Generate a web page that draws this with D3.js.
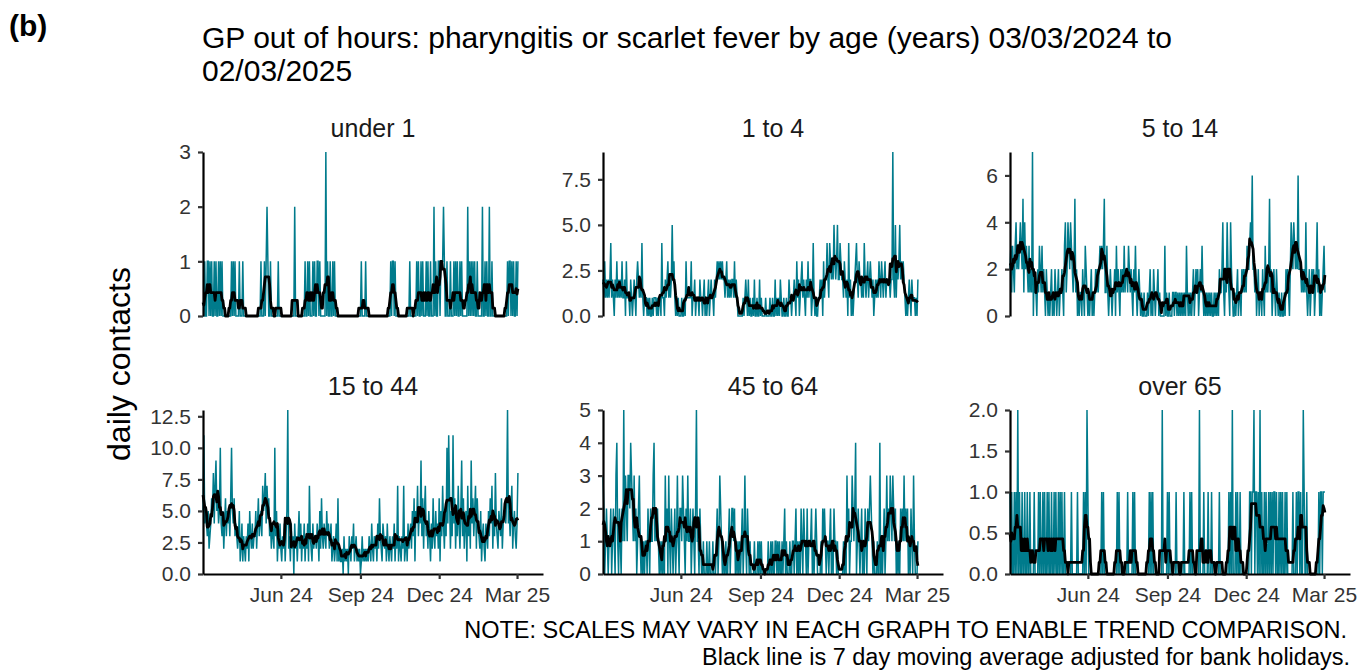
<!DOCTYPE html>
<html><head><meta charset="utf-8">
<script src="https://cdn.jsdelivr.net/npm/d3@7"></script>
<style>
body{margin:0;background:#fff;}
svg text{font-family:Arial,"Liberation Sans",sans-serif;}
</style>
</head><body>
<svg id="chart" width="1357" height="671"></svg>
<script>
const startDate = "2024-03-03";
const endDate = "2025-03-31";

const under1 = [
0,0,1,0,0,1,1,0,1,0, 1,0,0,1,0,1,0,0,1,0, 1,0,1,0,0,0,0,0,0,0, 0,0,0,1,0,1,0,1,0,0,
0,0,1,0,0,0,1,0,0,0, 0,0,0,0,0,0,0,0,0,0, 0,0,0,0,0,0,0,1,0,0, 0,1,0,1,2,1,0,0,1,0,
0,0,0,0,0,0,0,1,0,0, 0,0,0,0,0,0,0,0,0,0, 0,0,0,0,0,0,2,0,0,0, 0,0,0,0,0,0,0,0,1,0,
0,1,0,1,0,0,0,1,0,1, 0,0,1,1,0,1,0,0,0,0, 0,0,3,0,1,0,0,1,0,0, 1,0,1,0,0,0,0,0,0,0,
0,0,0,0,0,0,0,0,0,0, 0,0,0,0,0,0,0,0,0,0, 0,0,0,1,0,0,0,0,1,0, 0,0,0,0,0,0,0,0,0,0,
0,0,0,0,0,0,0,0,0,0, 0,0,0,0,0,0,0,1,0,1, 1,0,1,0,0,0,0,0,0,0, 0,0,0,0,0,0,0,0,0,1,
0,0,0,0,0,0,0,1,0,1, 0,0,1,0,1,0,0,0,1,0, 1,0,0,1,0,0,0,2,0,1, 0,0,1,1,0,1,1,1,2,1,
0,0,1,0,0,0,1,0,0,0, 1,0,1,0,1,0,0,1,0,1, 0,0,0,0,0,0,2,0,1,0, 1,0,1,0,1,0,0,1,0,0,
0,0,0,2,0,0,1,0,1,0, 0,2,0,0,1,0,0,0,0,0, 0,0,0,0,0,0,0,0,0,0, 0,0,1,0,1,1,0,1,0,1,
0,0,1,0,1];

const age1to4 = [
2,1,3,1,2,1,2,1,2,4, 1,2,1,0,2,1,3,1,2,1, 2,1,3,1,1,2,0,3,1,1, 1,0,2,1,0,1,2,1,0,2,
3,2,1,2,1,4,1,0,1,1, 1,0,1,0,1,0,0,1,0,1, 1,1,0,1,0,1,1,0,4,1, 1,0,2,1,2,3,1,2,1,2,
5,2,3,1,0,1,0,1,0,0, 0,1,0,0,1,0,3,1,1,1, 1,1,3,0,1,1,2,0,1,1, 1,0,2,1,1,0,1,2,0,1,
0,1,2,0,1,2,1,1,0,2, 1,2,3,2,3,2,3,2,3,2, 2,1,2,3,1,2,1,2,1,2, 2,1,3,1,2,1,0,0,0,0,
0,0,1,0,1,2,1,0,2,0, 1,0,0,1,0,2,0,0,1,0, 0,2,0,1,0,0,0,0,1,0, 0,0,0,1,0,0,1,0,0,2,
0,1,0,1,0,2,1,0,0,1, 0,0,1,0,0,2,1,1,0,1, 1,2,1,0,3,1,2,0,1,2, 3,1,2,1,0,2,1,3,1,2,
2,0,1,4,1,0,1,0,0,1, 1,2,1,2,0,3,1,2,2,4, 2,1,4,3,2,3,2,5,3,2, 3,5,2,2,4,3,2,2,1,3,
2,1,2,0,4,1,2,0,1,0, 1,2,3,4,2,1,3,2,2,1, 2,1,4,2,1,2,3,1,2,3, 2,1,2,0,1,2,1,2,1,3,
2,1,3,2,1,2,3,1,2,2, 2,2,1,2,2,9,2,1,5,1, 3,2,3,5,2,3,2,3,2,1, 0,1,0,1,2,1,0,2,1,1,
1,0,1,0,2];

const age5to14 = [
2,3,1,3,2,1,3,4,2,3, 2,3,4,3,2,5,1,4,2,3, 2,1,3,1,2,1,7,0,2,1, 1,0,2,1,3,2,1,3,1,2,
1,0,2,1,0,1,0,1,2,0, 1,0,2,1,0,1,2,0,1,1, 2,1,0,3,4,1,2,4,3,2, 4,3,2,1,2,5,1,2,0,1,
0,1,1,0,2,1,0,3,2,1, 0,1,0,1,2,0,1,0,1,2, 1,2,1,2,3,2,3,2,3,5, 1,1,3,1,0,1,2,1,0,1,
1,2,0,3,1,2,1,0,2,1, 2,1,3,1,2,2,1,3,2,1, 2,1,0,2,1,3,1,0,1,2, 1,0,1,0,0,1,0,0,0,1,
0,1,2,0,1,0,2,1,0,1, 1,2,0,1,0,0,0,0,0,3, 0,1,0,0,1,0,0,0,1,1, 0,1,1,0,1,0,1,0,1,0,
1,0,1,0,3,1,0,1,0,1, 0,1,2,0,1,2,1,2,0,1, 2,1,3,1,0,1,0,1,0,1, 0,1,0,1,0,0,1,0,1,0,
1,0,2,1,1,2,4,1,0,2, 1,4,2,1,0,4,2,1,0,0, 1,0,1,2,0,1,1,0,2,1, 2,1,2,1,3,2,2,3,4,3,
6,2,2,1,2,0,1,2,0,1, 1,0,2,1,0,3,1,2,1,2, 5,1,2,0,1,2,1,0,2,1, 0,1,0,0,1,0,0,1,0,2,
1,2,1,0,2,4,3,2,4,3, 2,3,2,6,2,2,2,1,2,1, 2,1,4,1,0,1,2,0,1,2, 1,2,0,1,2,4,1,2,0,1,
0,1,2,3,1];

const age15to44 = [
5,11,4,5,4,3,5,2,3,4, 6,5,8,4,7,9,5,6,4,5, 10,4,3,5,2,4,6,3,5,4, 5,3,6,10,5,4,6,3,4,3,
2,3,5,1,2,4,1,3,2,1, 3,2,4,1,5,3,2,4,2,3, 3,5,2,4,6,3,4,5,3,7, 5,6,8,4,7,5,6,3,4,2,
4,3,2,10,3,5,1,3,2,4, 2,1,3,2,4,1,3,5,13,2, 3,1,4,2,3,0,4,2,3,1, 3,5,2,4,1,3,2,4,1,3,
2,4,1,7,3,2,1,4,2,3, 3,2,4,3,1,5,2,6,3,2, 4,3,2,5,3,4,2,3,4,1, 2,3,1,2,4,1,6,1,2,1,
1,2,0,3,1,2,1,2,0,3, 2,1,3,2,4,1,2,3,1,2, 1,2,0,1,3,1,2,1,2,1, 2,1,3,2,1,4,2,1,3,2,
3,1,4,2,6,3,2,1,4,3, 2,3,1,4,2,1,3,2,1,3, 2,4,1,3,2,7,1,3,2,1, 3,2,7,1,2,3,1,4,2,3,
4,2,5,3,6,1,5,4,7,3, 5,4,9,3,6,2,5,7,3,4, 2,5,3,1,4,2,6,3,2,5, 3,4,2,6,1,5,3,7,4,2,
5,3,10,4,11,6,2,5,3,11, 4,6,2,5,3,7,4,2,5,9, 3,6,2,4,5,1,7,3,5,2, 9,4,6,3,5,7,2,6,4,3,
2,5,1,3,4,2,1,4,3,2, 5,3,6,4,7,2,5,3,8,4, 3,2,5,4,3,6,2,4,5,5, 4,6,13,4,5,3,5,7,2,4,
5,3,2,4,8];

const age45to64 = [
3,2,0,1,2,1,0,1,1,2, 0,1,2,1,0,3,4,1,0,2, 1,0,2,1,5,1,3,2,1,3, 3,2,4,3,2,1,3,1,2,0,
1,2,3,1,0,1,0,1,0,1, 1,0,2,1,0,2,1,1,3,4, 1,2,1,2,1,0,1,0,1,0, 1,0,3,1,2,0,3,1,0,2,
1,0,1,2,0,1,3,1,0,2, 2,1,3,2,1,0,2,1,3,1, 1,2,0,1,2,1,0,2,5,1, 1,0,2,1,0,0,1,0,0,0,
1,0,0,1,0,0,0,1,0,0, 0,1,2,0,1,3,2,1,0,1, 0,0,1,0,0,1,2,0,1,2, 2,1,2,0,1,0,1,0,1,0,
1,2,0,1,3,1,0,2,1,0, 1,0,0,0,0,1,0,0,0,1, 0,1,0,1,0,0,0,0,0,0, 0,1,0,0,1,0,1,0,0,1,
1,0,1,0,1,0,0,1,0,1, 2,0,1,0,0,0,1,0,0,1, 1,0,1,2,0,1,0,1,0,2, 1,0,2,1,1,0,2,0,1,1,
1,2,0,1,0,1,2,1,0,0, 0,0,1,0,2,1,2,1,0,1, 1,0,1,2,0,1,0,2,1,1, 0,1,0,0,0,0,0,0,1,0,
1,0,3,1,2,0,1,1,3,2, 1,2,4,0,1,2,1,0,1,2, 0,1,0,2,1,0,2,1,2,3, 2,1,0,1,0,0,0,1,0,0,
4,0,1,0,1,2,0,1,3,1, 2,1,3,2,1,3,2,1,2,0, 1,0,1,0,2,1,2,1,3,1, 2,1,2,0,1,0,2,1,0,3,
1,0,0,0,1];

const over65 = [
1,0,1,0,0,1,0,1,0,2, 0,1,0,0,1,0,0,1,0,0, 1,0,0,1,0,0,0,0,1,0, 0,0,0,1,0,1,0,0,1,0,
1,0,0,1,0,1,0,0,1,0, 0,1,0,1,0,0,1,0,1,0, 1,0,0,1,0,0,0,0,0,0, 0,1,0,0,0,0,0,0,1,0,
0,0,0,0,0,1,0,1,0,2, 1,0,0,0,0,0,0,0,0,0, 0,0,0,0,0,0,1,0,1,0, 0,0,0,0,0,0,0,0,0,0,
0,0,0,0,1,0,1,0,0,0, 0,0,0,0,0,0,1,0,0,0, 0,0,1,0,1,0,0,0,0,0, 0,0,0,0,0,0,0,0,0,0,
0,1,0,1,0,1,0,0,0,0, 0,0,0,0,0,0,2,0,0,0, 0,0,1,0,1,0,0,0,0,0, 0,0,1,0,0,0,0,0,0,0,
0,1,0,0,0,0,0,0,1,0, 1,0,0,0,0,0,0,0,0,2, 0,0,0,0,1,0,0,0,0,1, 0,0,0,1,0,0,0,0,0,0,
0,0,1,0,0,0,0,0,0,0, 0,0,0,1,0,1,0,2,0,0, 0,1,0,1,0,0,1,0,0,0, 0,0,0,0,0,0,0,1,1,0,
1,1,2,0,1,1,0,1,0,2, 0,1,0,0,1,0,1,0,0,1, 0,1,0,1,0,1,1,0,1,0, 0,1,0,1,0,1,0,0,1,0,
1,0,0,0,0,0,0,1,0,0, 0,1,0,1,1,0,1,0,0,2, 1,0,0,1,0,0,0,0,0,0, 0,0,0,0,0,0,0,1,0,1,
1,0,1,1,1];

const panelTitles = ["under 1","1 to 4","5 to 14","15 to 44","45 to 64","over 65"];
const panelSeries = [under1, age1to4, age5to14, age15to44, age45to64, over65];
const yMaxes = [3, 9, 7, 13, 5, 2];
const yTickValues = [[0,1,2,3],[0,2.5,5,7.5],[0,2,4,6],[0,2.5,5,7.5,10,12.5],[0,1,2,3,4,5],[0,0.5,1,1.5,2]];
const yTickFormats = ["d",".1f","d",".1f","d",".1f"];
const xTickDates = ["2024-06-01","2024-09-01","2024-12-01","2025-03-01"];
const xTickLabels = ["Jun 24","Sep 24","Dec 24","Mar 25"];

const titleLines = ["GP out of hours: pharyngitis or scarlet fever by age (years) 03/03/2024 to","02/03/2025"];
const noteLines = ["NOTE: SCALES MAY VARY IN EACH GRAPH TO ENABLE TREND COMPARISON.","Black line is 7 day moving average adjusted for bank holidays."];

const svg = d3.select("#chart");
const parse = d3.timeParse("%Y-%m-%d");
const t0 = parse(startDate);
const colLeft = [203, 603, 1010];
const rowTop = [152, 410];
const pw = 340, ph = 164;
const teal = "#007b8c";
const FONT = "Arial, 'Liberation Sans', sans-serif";

svg.append("text").attr("x",9).attr("y",36).attr("font-size",30).attr("font-weight","bold").text("(b)");
titleLines.forEach((t,i)=>{
  svg.append("text").attr("x",202).attr("y",48+i*33).attr("font-size",30).attr("fill","#000").text(t);
});
svg.append("text").attr("transform","translate(130,364) rotate(-90)").attr("text-anchor","middle")
  .attr("font-size",32).text("daily contacts");
noteLines.forEach((t,i)=>{
  svg.append("text").attr("x",1347+i*3).attr("y",638+i*27).attr("text-anchor","end").attr("font-size",23.5).text(t);
});

function movingAverage(vals){
  return vals.map((v,i)=>d3.mean(vals.slice(Math.max(0,i-3), Math.min(vals.length, i+4))));
}

panelSeries.forEach((vals, k)=>{
  const col = k % 3, row = Math.floor(k/3);
  const x0 = colLeft[col], y0 = rowTop[row];
  const g = svg.append("g").attr("transform",`translate(${x0},${y0})`);
  const x = d3.scaleTime().domain([t0, parse(endDate)]).range([0,pw]);
  const y = d3.scaleLinear().domain([0,yMaxes[k]]).range([ph,0]);
  const dates = vals.map((_,i)=>d3.timeDay.offset(t0,i));
  const ma = movingAverage(vals);

  g.append("path").datum(vals).attr("fill","none").attr("stroke",teal).attr("stroke-width",1.5)
    .attr("d", d3.line().x((d,i)=>x(dates[i])).y(d=>y(d)));
  g.append("path").datum(ma).attr("fill","none").attr("stroke","#000").attr("stroke-width",2.8)
    .attr("stroke-linejoin","round")
    .attr("d", d3.line().x((d,i)=>x(dates[i])).y(d=>y(d)));

  const ya = g.append("g").call(d3.axisLeft(y).tickValues(yTickValues[k]).tickFormat(d3.format(yTickFormats[k])).tickSize(5).tickSizeOuter(0).tickPadding(7));
  ya.select(".domain").attr("stroke","#000").attr("stroke-width",2.2);
  ya.selectAll(".tick line").attr("stroke","#333").attr("stroke-width",2.2);
  ya.selectAll(".tick text").attr("font-size",21).attr("fill","#333").attr("font-family",FONT);

  if(row===1){
    const xa = g.append("g").attr("transform",`translate(0,${ph})`)
      .call(d3.axisBottom(x).tickValues(xTickDates.map(parse)).tickFormat((d,i)=>xTickLabels[i]).tickSize(5).tickSizeOuter(0).tickPadding(8));
    xa.select(".domain").attr("stroke","#000").attr("stroke-width",2.2);
    xa.selectAll(".tick line").attr("stroke","#333").attr("stroke-width",2.2);
    xa.selectAll(".tick text").attr("font-size",21).attr("fill","#333").attr("font-family",FONT);
  }
  g.append("text").attr("x",pw/2).attr("y",-15).attr("text-anchor","middle").attr("font-size",25).attr("fill","#1a1a1a").text(panelTitles[k]);
});
</script>
</body></html>
